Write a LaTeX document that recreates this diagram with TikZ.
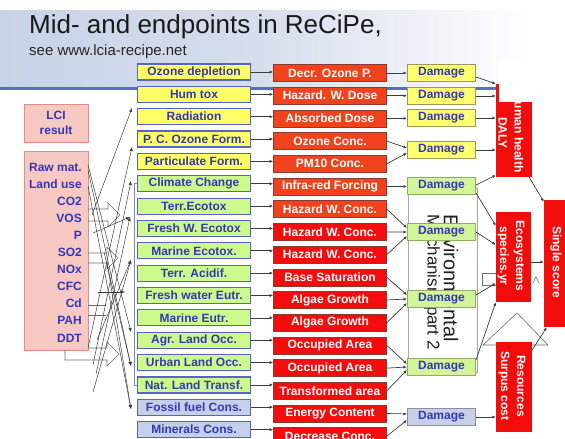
\documentclass[tikz,border=0pt]{standalone}
\usepackage{fontspec}
\setmainfont{Liberation Sans}
\usetikzlibrary{arrows.meta,calc}

\definecolor{labelblue}{HTML}{3438B4}
\definecolor{boxedge}{HTML}{5564C8}
\definecolor{fillyellow}{HTML}{FFFF66}
\definecolor{fillgreen}{HTML}{CDFA8C}
\definecolor{fillgrey}{HTML}{C6CEEA}
\definecolor{redorange}{HTML}{F0421C}
\definecolor{redbright}{HTML}{F40D0D}
\definecolor{rededge}{HTML}{8A3A2E}
\definecolor{endred}{HTML}{F20C0C}
\definecolor{lcifill}{HTML}{F8C8C2}
\definecolor{lciedge}{HTML}{E58C86}
\definecolor{bandblue}{HTML}{C9D3E7}
\definecolor{ruleblue}{HTML}{5472C2}
\definecolor{linegrey}{HTML}{3C3C3C}
\definecolor{dyfill}{HTML}{FFFF70}
\definecolor{dyedge}{HTML}{9A9A58}
\definecolor{dgfill}{HTML}{D2F59A}
\definecolor{dgedge}{HTML}{8EAE62}
\definecolor{dbfill}{HTML}{C8D0E6}
\definecolor{dbedge}{HTML}{8890A8}

\begin{document}
\begin{tikzpicture}[x=1pt,y=-1pt,
  lbl/.style={font=\fontsize{12}{14}\selectfont\bfseries},
  midbox/.style={lbl, draw=boxedge, line width=1.2pt, text=labelblue,
    minimum width=113pt, minimum height=16pt, inner sep=0pt},
  redbox/.style={lbl, draw=rededge, line width=0.6pt, text=white,
    minimum width=113pt, minimum height=17pt, inner sep=0pt},
  dmg/.style={lbl, text=labelblue, line width=1pt,
    minimum width=68pt, minimum height=17pt, inner sep=0pt},
  dmgY/.style={dmg, draw=dyedge, fill=dyfill},
  dmgG/.style={dmg, draw=dgedge, fill=dgfill},
  dmgB/.style={dmg, draw=dbedge, fill=dbfill},
  lcibox/.style={draw=lciedge, fill=lcifill, line width=1pt, inner sep=0pt},
  endbox/.style={fill=endred, inner sep=0pt},
  endtext/.style={font=\fontsize{12}{16}\selectfont\bfseries, text=white,
    rotate=-90, align=center, inner sep=0pt},
  paneltext/.style={rotate=-90, inner sep=0pt, text=black!88},
  conn/.style={draw=linegrey, line width=0.7pt, -{Latex[length=3.5pt,width=3pt]}},
  tangle/.style={draw=linegrey, line width=0.5pt, -{Latex[length=4pt,width=3.5pt]}},
  ghost/.style={draw=gray!85!black, line width=0.6pt},
]
\useasboundingbox (0,0) rectangle (565,439);
\clip (0,0) rectangle (565,439);

% header band and rule
\shade[left color=bandblue, right color=white, middle color=bandblue!75]
  (0,10) rectangle (530,87);
\draw[ruleblue, line width=2.5pt] (0,88.5) -- (496,88.5);

\node[anchor=base west, inner sep=0pt, text=black!90,
  font=\fontsize{26}{26}\selectfont] (title) at (29,33)
  {Mid- and endpoints in ReCiPe,};
\node[anchor=base west, inner sep=0pt, text=black!85,
  font=\fontsize{15}{15}\selectfont] (subtitle) at (29,55)
  {see www.lcia-recipe.net};

% inventory side
\node[lcibox, lbl, text=labelblue, align=center, minimum width=64pt,
  minimum height=38pt, font=\fontsize{12}{15}\selectfont\bfseries]
  (lci) at (56,123) {LCI\\result};
\node[lcibox, minimum width=64pt, minimum height=199pt] (inv) at (56,250.5) {};
\foreach \k/\t in {1/Raw mat., 2/Land use, 3/CO2, 4/VOS, 5/P, 6/SO2,
                   7/NOx, 8/CFC, 9/Cd, 10/PAH, 11/DDT}
  \node[lbl, text=labelblue, anchor=base east, inner sep=0pt]
    (inv\k) at (82,{171+17.1*(\k-1)}) {\t};

% hollow block arrows half hidden behind the tangle
\draw[ghost] (88,209) -- (108,209) -- (108,203) -- (120,215)
  -- (108,227) -- (108,221) -- (88,221);
\draw[ghost] (88,253) -- (107,253) -- (107,247) -- (118,258)
  -- (107,269) -- (107,263) -- (88,263);
\draw[ghost] (88,348) -- (107,348) -- (107,342) -- (119,354)
  -- (107,366) -- (107,360) -- (65,360) -- (65,350);
\draw[ghost] (88,305) -- (106,305);
\draw[ghost] (88,315) -- (106,315);

% arrow tips at the midpoint column
\coordinate (t1) at (132,108);
\coordinate (t2) at (132,147);
\coordinate (t3) at (131,181);
\coordinate (t4) at (130,217);
\coordinate (t5) at (131,260);
\coordinate (t6) at (125,292);
\coordinate (t7) at (131,332);
\coordinate (t8) at (131,366);
\coordinate (t9) at (131,409);
% loose ends of the links
\coordinate (s1) at (92,215);
\coordinate (s2) at (88,348);
\coordinate (s3) at (93,365);
\coordinate (s4) at (93,233);
\coordinate (s5) at (93,392);
\coordinate (s6) at (97,340);
\coordinate (s7) at (98,292);
\coordinate (s8) at (88,165);
\coordinate (s9) at (88,170);
\coordinate (s10) at (88,186);
\coordinate (s11) at (104,252);
\coordinate (s12) at (107,262);
\coordinate (s13) at (96,374);

\draw[tangle] (s1) -- (t1);
\draw[tangle] (s2) -- (t2);
\draw[tangle] (s3) -- (t3);
\draw[tangle] (s4) -- (t4);
\draw[tangle] (s5) -- (t5);
\draw[tangle] (s6) -- (t5);
\draw[tangle] (s7) -- (t6);
\draw[tangle] (s8) -- (t7);
\draw[tangle] (s9) -- (t8);
\draw[tangle] (s10) -- (t9);
\draw[tangle] (s11) -- (t8);
\draw[tangle] (s12) -- (t9);
\draw[tangle] (s13) -- (t4);

% midpoint categories
\foreach \i/\txt/\col in {
  1/Ozone depletion/fillyellow, 2/Hum tox/fillyellow, 3/Radiation/fillyellow,
  4/P. C. Ozone Form./fillyellow, 5/Particulate Form./fillyellow,
  6/Climate Change/fillgreen, 7/Terr.Ecotox/fillgreen,
  8/Fresh W. Ecotox/fillgreen, 9/Marine Ecotox./fillgreen,
  10/Terr. Acidif./fillgreen, 11/Fresh water Eutr./fillgreen,
  12/Marine Eutr./fillgreen, 13/Agr. Land Occ./fillgreen,
  14/Urban Land Occ./fillgreen, 15/Nat. Land Transf./fillgreen,
  16/Fossil fuel Cons./fillgrey, 17/Minerals Cons./fillgrey}
  \node[midbox, fill=\col] (m\i) at (194,{72+22.35*(\i-1)}) {\txt};

\draw[draw=boxedge!80, line width=0.6pt] (m6.west) -- ++(-3,0) |- (m15.west);

% midpoint indicators
\foreach \i/\txt/\col in {
  1/Decr. Ozone P./redorange, 2/Hazard. W. Dose/redorange,
  3/Absorbed Dose/redorange, 4/Ozone Conc./redorange,
  5/PM10 Conc./redorange, 6/Infra-red Forcing/redorange,
  7/Hazard W. Conc./redorange, 8/Hazard W. Conc./redbright,
  9/Hazard W. Conc./redbright, 10/Base Saturation/redbright,
  11/Algae Growth/redbright, 12/Algae Growth/redbright,
  13/Occupied Area/redbright, 14/Occupied Area/redbright,
  15/Transformed area/redbright, 16/Energy Content/redbright,
  17/Decrease Conc./redbright}
  \node[redbox, fill=\col] (r\i) at (330,{73+22.7*(\i-1)}) {\txt};

\foreach \i in {1,...,17}
  \draw[conn] (m\i.east) -- (m\i.east -| r\i.west);

% panel left over behind the damage column
\node[draw=gray!70, fill=white, line width=0.8pt, minimum width=69pt,
  minimum height=184pt, inner sep=0pt] (envbox) at (442.5,280) {};
\node[paneltext, font=\fontsize{20}{20}\selectfont] (envtxtA) at (451,278)
  {Environmental};
\node[paneltext, font=\fontsize{17}{17}\selectfont] (envtxtB) at (432,282)
  {Mechanism part 2};

% damage boxes
\node[dmgY] (d1) at (441.5,73) {Damage};
\node[dmgY] (d2) at (441.5,96) {Damage};
\node[dmgY] (d3) at (441.5,118) {Damage};
\node[dmgY] (d4) at (441.5,150) {Damage};
\node[dmgG] (d5) at (441.5,186) {Damage};
\node[dmgG] (d6) at (441.5,232) {Damage};
\node[dmgG] (d7) at (441.5,299) {Damage};
\node[dmgG] (d8) at (441.5,367) {Damage};
\node[dmgB] (d9) at (441.5,417) {Damage};

\draw[conn] (r1.east) -- (d1.west);
\draw[conn] (r2.east) -- (r2.east -| d2.west);
\draw[conn] (r3.east) -- (r3.east -| d3.west);
\draw[conn] (r4.east) -- ($(d4.west)+(0,-2)$);
\draw[conn] (r5.east) -- ($(d4.west)+(0,3)$);
\draw[conn] (r6.east) -- (r6.east -| d5.west);
\draw[conn] (r7.east) -- ($(d6.west)+(0,-4)$);
\draw[conn] (r8.east) -- (d6.west);
\draw[conn] (r9.east) -- ($(d6.west)+(0,4)$);
\draw[conn] (r10.east) -- ($(d7.west)+(0,-4)$);
\draw[conn] (r11.east) -- (d7.west);
\draw[conn] (r12.east) -- ($(d7.west)+(0,4)$);
\draw[conn] (r13.east) -- ($(d8.west)+(0,-3)$);
\draw[conn] (r14.east) -- (d8.west);
\draw[conn] (r15.east) -- ($(d8.west)+(0,3)$);
\draw[conn] (r16.east) -- ($(d9.west)+(0,-3)$);
\draw[conn] (r17.east) -- ($(d9.west)+(0,3)$);

% outlines of shapes hidden behind the endpoint boxes
\draw[ghost] (483,345) -- (517,313) -- (548,345) -- cycle;
\draw[ghost] (482,273) rectangle (497,285);
\draw[ghost] (533,283) -- (536,277) -- (539,283);

% endpoint boxes
\node[endbox, minimum width=36pt, minimum height=93pt] (hh) at (514,130.5) {};
\node[endtext] (hhtxt) at (511,133) {Human health\\DALY};
\fill[white] (499,60) rectangle (545,101.5);
\node[endbox, minimum width=35pt, minimum height=90pt] (eco) at (513.5,257) {};
\node[endtext] (ecotxt) at (511,256) {Ecosystems\\species.yr};
\node[endbox, minimum width=36pt, minimum height=90pt] (res) at (514,387) {};
\node[endtext] (restxt) at (512,386) {Resources\\Surpus cost};
\node[endbox, minimum width=28pt, minimum height=127pt] (ss) at (558,263.5) {};
\node[endtext] (sstxt) at (556,262) {Single score};

% damage to endpoint links
\draw[conn] ($(d1.east)+(0,4)$) -- (hh.north west);
\draw[conn] (d2.east) -- (d2.east -| hh.west);
\draw[conn] (d3.east) -- (d3.east -| hh.west);
\draw[conn] (d4.east) -- (d4.east -| hh.west);
\draw[conn] ($(d5.east)+(0,-1)$) -- ($(hh.south west)+(0,-2)$);
\draw[conn] ($(d5.south east)+(0,-2)$) -- ($(eco.north west)+(0,14)$);
\draw[conn] (d6.east) -- ($(eco.north west)+(0,33)$);
\draw[conn] ($(d7.east)+(0,-4)$) -- ($(eco.south west)+(0,-19)$);
\draw[conn] ($(d8.north east)+(0,2)$) -- (eco.south west);
\draw[conn] (d9.east) -- (d9.east -| res.west);

% endpoint to single score
\draw[conn] ($(hh.south east)+(-3,0)$) -- ($(ss.north west)+(0,2)$);
\draw[conn] ($(eco.east)+(0,5)$) -- ($(ss.west)+(0,-1.5)$);
\draw[conn] ($(res.north east)+(0,8)$) -- ($(ss.south west)+(3,0)$);
\end{tikzpicture}
\end{document}
